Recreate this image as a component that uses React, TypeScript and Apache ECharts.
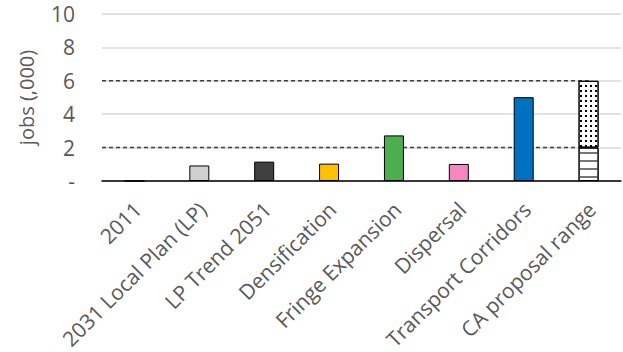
import { useEffect, useRef } from "react";
import * as echarts from "echarts";

// Job numbers (thousands) by scenario
const categories = [
  "2011",
  "2031 Local Plan (LP)",
  "LP Trend 2051",
  "Densification",
  "Fringe Expansion",
  "Dispersal",
  "Transport Corridors",
  "CA proposal range",
];
const jobValues: (number | null)[] = [0, 0.93, 1.16, 1.04, 2.73, 1.02, 5.02, null];
const barColors = ["#ffffff", "#d0d0d0", "#404040", "#ffc000", "#4cae4f", "#f785c1", "#0070c0", "#ffffff"];
// CA proposal range: low and high ends
const proposalRange = [2, 6];
const yTicks = [0, 2, 4, 6, 8, 10];

const FONT = "'Open Sans', sans-serif";
const TEXT = "#595959";

export default function App() {
  const ref = useRef<HTMLDivElement>(null);

  useEffect(() => {
    if (!ref.current) return;
    const chart = echarts.init(ref.current, undefined, { renderer: "svg" });
    const rangeIndex = categories.indexOf("CA proposal range");
    const [low, high] = proposalRange;

    const dashed = (level: number) => ({
      type: "line",
      xAxisIndex: 1,
      data: [
        [0, level],
        [rangeIndex + 0.5, level],
      ],
      symbol: "none",
      silent: true,
      z: 1,
      lineStyle: { color: "#404040", width: 1.5, type: [4, 3] },
    });

    chart.setOption({
      animation: false,
      grid: { left: 102, right: 2, top: 14, bottom: 171, outerBoundsMode: "none" },
      xAxis: [
        {
          type: "category",
          data: categories,
          axisLine: { lineStyle: { color: "#000", width: 1.5 } },
          axisTick: { show: false },
          axisLabel: {
            interval: 0,
            rotate: 45,
            margin: 13,
            padding: [0, 6, 0, 0],
            verticalAlign: "top",
            color: TEXT,
            fontFamily: FONT,
            fontSize: 21,
          },
        },
        { type: "value", min: 0, max: categories.length, show: false },
      ],
      yAxis: {
        type: "value",
        min: yTicks[0],
        max: yTicks[yTicks.length - 1],
        interval: yTicks[1] - yTicks[0],
        name: "jobs (,000)",
        nameLocation: "middle",
        nameGap: 66,
        nameTextStyle: { color: TEXT, fontFamily: FONT, fontSize: 20 },
        axisLine: { show: false },
        axisTick: { show: false },
        axisLabel: {
          margin: 27,
          color: TEXT,
          fontFamily: FONT,
          fontSize: 21,
          formatter: (v: number) => (v === 0 ? "-" : String(v)),
        },
        splitLine: { lineStyle: { color: "#d9d9d9", width: 1.5 } },
      },
      series: [
        {
          type: "bar",
          stack: "total",
          barWidth: 20,
          itemStyle: { borderColor: "#000", borderWidth: 1 },
          data: jobValues.map((v, i) =>
            v == null ? "-" : { value: v, itemStyle: { color: barColors[i] } }
          ),
        },
        {
          type: "bar",
          stack: "total",
          barWidth: 20,
          itemStyle: {
            color: "#ffffff",
            borderColor: "#000",
            borderWidth: 1,
            decal: {
              symbol: "rect",
              symbolSize: 1,
              dashArrayX: [1, 0],
              dashArrayY: [2, 6],
              color: "#767676",
            },
          },
          data: categories.map((_, i) => (i === rangeIndex ? low : "-")),
        },
        {
          type: "bar",
          stack: "total",
          barWidth: 20,
          itemStyle: {
            color: "#ffffff",
            borderColor: "#000",
            borderWidth: 1,
            decal: {
              symbol: "rect",
              symbolSize: 1,
              dashArrayX: [1.3, 2.1],
              dashArrayY: [1.3, 2.1],
              color: "#000000",
            },
          },
          data: categories.map((_, i) => (i === rangeIndex ? high - low : "-")),
        },
        dashed(low),
        dashed(high),
      ],
    });

    return () => chart.dispose();
  }, []);

  return (
    <div
      ref={ref}
      style={{ position: "fixed", left: 0, top: 0, width: 623, height: 352, background: "#fff" }}
    />
  );
}
